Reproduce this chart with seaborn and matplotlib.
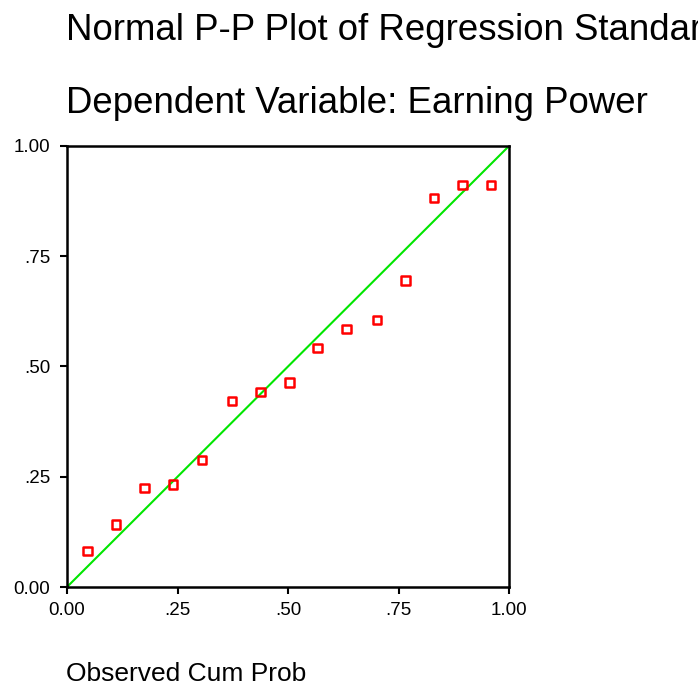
import matplotlib
matplotlib.use("Agg")
import matplotlib.pyplot as plt
import seaborn as sns
import pandas as pd

observed_cum_prob = [0.046, 0.111, 0.175, 0.240, 0.305, 0.373, 0.438, 0.503,
                     0.567, 0.632, 0.701, 0.766, 0.830, 0.895, 0.959]
expected_cum_prob = [0.082, 0.142, 0.224, 0.232, 0.288, 0.422, 0.442, 0.464,
                     0.542, 0.585, 0.605, 0.695, 0.882, 0.912, 0.912]
diag = [0.0, 1.0]
tick_vals = [0.0, 0.25, 0.5, 0.75, 1.0]
tick_labels = ["0.00", ".25", ".50", ".75", "1.00"]
title_1 = "Normal P-P Plot of Regression Standardized Residual"
title_2 = "Dependent Variable: Earning Power"
xlabel = "Observed Cum Prob"

sns.set_style("white")
plt.rcParams['font.family'] = ['Liberation Sans', 'DejaVu Sans']
plt.rcParams['text.color'] = 'black'
plt.rcParams['xtick.color'] = 'black'
plt.rcParams['ytick.color'] = 'black'

fig = plt.figure(figsize=(6.98, 6.87), dpi=100)
ax = fig.add_axes([67/698, 1 - 587/687, 442/698, 441/687])

df = pd.DataFrame({"obs": observed_cum_prob, "exp": expected_cum_prob})
sns.lineplot(x=diag, y=diag, ax=ax, color="#00e600", linewidth=1.5)
sns.scatterplot(data=df, x="obs", y="exp", ax=ax, marker="s", s=38,
                facecolor="none", edgecolor="#ff0000", linewidth=1.8, zorder=3)

ax.set_xlim(0, 1)
ax.set_ylim(0, 1)
ax.set_xticks(tick_vals)
ax.set_xticklabels(tick_labels)
ax.set_yticks(tick_vals)
ax.set_yticklabels(tick_labels)
ax.tick_params(axis="both", direction="out", length=5, width=1.5, color="black",
               labelsize=13.5, labelcolor="black", bottom=True, left=True)
ax.tick_params(axis="y", pad=7)
ax.tick_params(axis="x", pad=6)
for sp in ax.spines.values():
    sp.set_visible(True)
    sp.set_color("black")
    sp.set_linewidth(1.8)
ax.set_xlabel("")
ax.set_ylabel("")

fig.text(66/698, 1 - 40/687, title_1, fontsize=26.4, ha="left", va="baseline", color="black")
fig.text(66/698, 1 - 113/687, title_2, fontsize=26.4, ha="left", va="baseline", color="black")
fig.text(66/698, 1 - 681/687, xlabel, fontsize=19, ha="left", va="baseline", color="black")

fig.savefig("out.png", dpi=100)
